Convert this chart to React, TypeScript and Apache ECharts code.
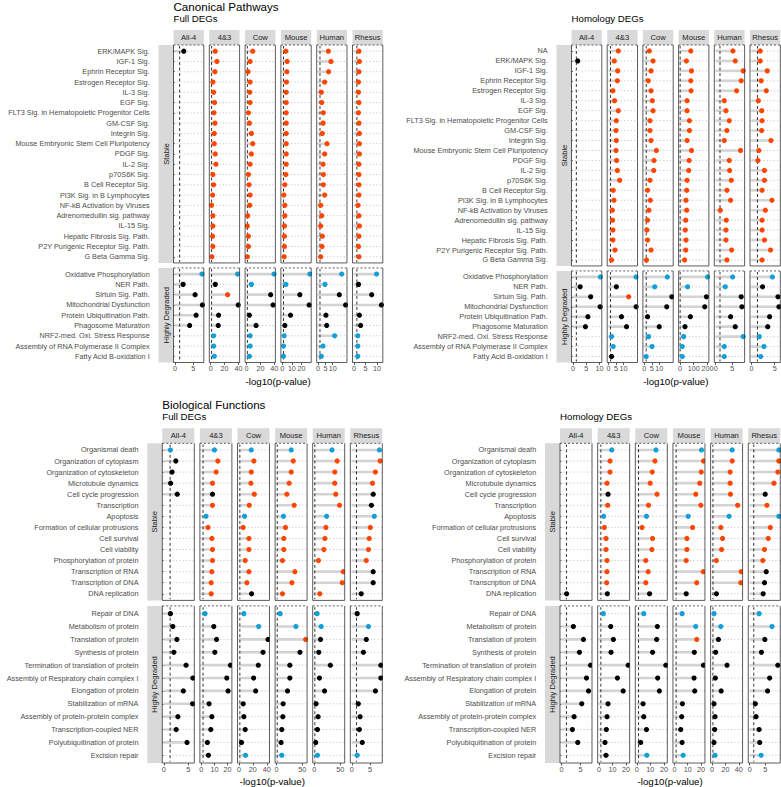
import React, { useEffect, useRef } from "react";
import * as echarts from "echarts";

const FONT = "'Liberation Sans', Arial, Helvetica, sans-serif";
const COLUMNS = ["All-4", "4&3", "Cow", "Mouse", "Human", "Rhesus"];
const ROW_LABELS = ["Stable", "Highly Degraded"];
const THRESHOLD = 1.3;
const PALETTE: Record<string, string> = { o: "#FF4500", b: "#119FD7", k: "#000000" };
const COLOR_KEYS = ["o", "b", "k"];
const N = null;

type V = (number | null)[];

// ---------- categories ----------
const cpStableFull = [
  "ERK/MAPK Sig.", "IGF-1 Sig.", "Ephrin Receptor Sig.", "Estrogen Receptor Sig.", "IL-3 Sig.", "EGF Sig.",
  "FLT3 Sig. in Hematopoietic Progenitor Cells", "GM-CSF Sig.", "Integrin Sig.", "Mouse Embryonic Stem Cell Pluripotency",
  "PDGF Sig.", "IL-2 Sig.", "p70S6K Sig.", "B Cell Receptor Sig.", "PI3K Sig. in B Lymphocytes", "NF-kB Activation by Viruses",
  "Adrenomedullin sig. pathway", "IL-15 Sig.", "Hepatic Fibrosis Sig. Path.", "P2Y Purigenic Receptor Sig. Path.", "G Beta Gamma Sig.",
];
const cpStableHom = ["NA", ...cpStableFull];
const cpDegraded = [
  "Oxidative Phosphorylation", "NER Path.", "Sirtuin Sig. Path.", "Mitochondrial Dysfunction", "Protein Ubiquitination Path.",
  "Phagosome Maturation", "NRF2-med. Oxi. Stress Response", "Assembly of RNA Polymerase II Complex", "Fatty Acid B-oxidation I",
];
const bfStable = [
  "Organismal death", "Organization of cytoplasm", "Organization of cytoskeleton", "Microtubule dynamics", "Cell cycle progression",
  "Transcription", "Apoptosis", "Formation of cellular protrusions", "Cell survival", "Cell viability", "Phosphorylation of protein",
  "Transcription of RNA", "Transcription of DNA", "DNA replication",
];
const bfDegraded = [
  "Repair of DNA", "Metabolism of protein", "Translation of protein", "Synthesis of protein", "Termination of translation of protein",
  "Assembly of Respiratory chain complex I", "Elongation of protein", "Stabilization of mRNA", "Assembly of protein-protein complex",
  "Transcription-coupled NER", "Polyubiquitination of protein", "Excision repair",
];

// ---------- Canonical pathways, Full DEGs ----------
const cpFullStableVals: V[] = [
  [2.42],
  [6.6, 9.0, 6.1, 3.2, 4.2, 5.6, 4.7, 6.1, 5.2, 5.2, 6.6, 7.6, 3.2, 4.2, 2.8, 1.3, 3.2, 3.2, 2.8, 3.2, 1.8],
  [9.0, 5.2, 2.3, 5.2, 4.7, 5.2, 2.8, 4.2, 7.1, 9.0, 7.1, 5.2, 2.8, 3.7, 5.2, 4.7, 1.8, 1.3, 2.8, 2.8, 1.3],
  [3.7, 5.1, 4.8, 4.4, 4.1, 4.1, 4.1, 4.1, 4.1, 4.1, 4.1, 4.1, 3.7, 2.7, 1.7, 2.7, 2.7, 2.3, 2.3, 2.3, 2.0],
  [7.0, 8.8, 7.2, 4.5, 2.2, 2.5, 3.6, 3.4, 2.9, 6.1, 4.5, 3.4, 3.6, 3.6, 4.5, 1.8, 2.5, 1.8, 2.9, 2.7, 1.8],
  [2.2, 2.4, 2.2, 2.0, 2.0, 2.2, 2.0, 2.2, 2.4, 2.4, 2.4, 2.2, 2.2, 2.2, 2.2, 1.8, 2.2, 2.4, 2.2, 2.0, 2.2],
];
const cpFullStableClr = ["k", "o".repeat(21), "o".repeat(21), "o".repeat(21), "o".repeat(21), "o".repeat(21)];
const cpFullDegVals: V[] = [
  [7.38, 2.24, 5.51, 7.5, 5.79, 4.01],
  [38.7, 6.6, 24.3, 39.6, 11.4, 10.9, 4.2, 4.2, 5.2],
  [39.6, 7.1, 34.8, 38.2, 4.2, 13.8, 5.2, 5.2, 4.2],
  [28.7, 3.7, 18.3, 28.0, 8.6, 2.7, 2.0, 1.3, 1.3],
  [16.1, 4.7, 14.5, 18.8, 5.4, 5.9, 11.3, 3.4, 2.2],
  [9.8, 2.0, 7.7, 11.9, 2.4, 2.9, 1.7, 1.7, 1.7],
];
const cpFullDegClr = ["bkkkkk", "bkokkkbbb", "bbkkkkbbb", "bbkkkkbbb", "bbkkkkbbb", "bkkkkkbbb"];
const cpFullTicks = [[0, 5], [0, 20, 40], [0, 20, 40], [0, 10, 20], [0, 5, 10, 15], [0, 5, 10]];

// ---------- Canonical pathways, Homology DEGs ----------
const cpHomStableVals: V[] = [
  [N, 1.82],
  [6.5, 3.8, 6.1, 5.9, 2.9, 4.0, 6.5, 5.2, 5.0, 5.2, 5.0, 5.4, 5.9, 7.4, 3.1, 3.6, 2.5, 2.7, 2.9, 2.9, 4.3, 2.0],
  [3.4, 5.9, 4.5, 2.7, 4.5, 5.4, 5.9, 3.8, 3.8, 4.5, 8.1, 6.5, 6.3, 3.8, 2.2, 4.0, 3.1, 2.2, 1.8, 2.2, 4.5, 1.5],
  [79, 47, 84, 79, 81, 52, 52, 69, 69, 52, 84, 67, 64, 52, 49, 44, 49, 42, 39, 44, 42, 34],
  [5.2, 5.9, 8.3, 7.7, 6.3, 2.6, 3.1, 4.1, 3.4, 2.6, 7.5, 4.1, 4.2, 4.7, 3.4, 4.5, 1.4, 3.2, 3.1, 3.1, 4.8, 3.4],
  [1.9, 1.9, 3.4, 2.1, 3.2, 1.5, 2.2, 2.3, 2.2, 4.2, 1.6, 1.4, 2.8, 2.8, 2.3, 4.4, 3.0, 2.3, 2.3, 2.8, 4.1, 2.3],
];
const cpHomStableClr = ["-k", "o".repeat(22), "o".repeat(22), "o".repeat(22), "o".repeat(22), "o".repeat(22)];
const cpHomDegVals: V[] = [
  [10.3, 2.73, 6.66, 10.2, 5.61, 4.7],
  [18.4, 5.2, 13.4, 18.4, 8.6, 12.0, 2.0, 3.1, 2.0],
  [15.4, 7.0, 18.4, 15.0, 2.2, 10.0, 2.9, 5.2, 1.3],
  [201, 56, 193, 181, 76, 37, 27, 17, 17],
  [5.1, 2.9, 7.7, 7.9, 4.5, 5.9, 8.3, 2.6, 2.6],
  [4.5, 2.4, 5.7, 5.9, 3.9, 3.5, 1.7, 2.7, 2.0],
];
const cpHomDegClr = ["bkkkkk", "bkokkkbbk", "bbkkkkbbb", "bbkkkkbbb", "bbkkkkbbb", "bkkkkkbbb"];
const cpHomTicks = [[0, 5, 10], [0, 5, 10, 15], [0, 5, 10, 15], [0, 100, 200], [0, 5], [0, 5]];

// ---------- Biological functions, Full DEGs ----------
const bfFullStableVals: V[] = [
  [1.36, 2.47, 1.71, 1.4, 2.75],
  [10.0, 12.6, 11.3, 8.5, 8.5, 8.5, 3.6, 5.1, 8.0, 8.5, 8.5, 8.0, 7.5, 7.5],
  [17.7, 21.5, 17.7, 17.2, 22.0, 14.8, 8.0, 6.1, 14.3, 14.3, 9.0, 14.3, 11.4, 18.2],
  [28.5, 32.4, 28.5, 24.5, 20.0, 34.3, 13.5, 17.4, 14.1, 14.1, 11.5, 35.6, 29.8, 11.5],
  [34.2, 44.0, 39.4, 39.4, 41.4, 48.5, 23.8, 22.5, 20.6, 18.6, 8.2, 55.6, 53.7, 10.8],
  [7.6, 7.8, 6.5, 5.7, 5.9, 5.4, 6.2, 5.1, 4.8, 4.6, 4.0, 5.9, 5.9, 2.6],
];
const bfFullStableClr = ["bkkkk", "boookobooooooo", "booooobooooook", "booooobooooooo", "booooobooooooo", "boookkbooookkk"];
const bfFullDegVals: V[] = [
  [1.36, 1.85, 2.68, 2.06, 4.56, 5.94, 4.0, 5.88, 2.89, 2.54, 4.76],
  [2.8, 9.5, 11.6, 10.3, 22.2, 19.4, 20.4, 5.9, 8.0, 7.2, 4.6, 5.4],
  [7.05, 28.3, 41.8, 34.6, 27.8, 21.1, 24.0, 6.1, 7.05, 9.0, 3.7, 9.5],
  [7.0, 37.6, 56.5, 45.4, 25.8, 25.8, 21.3, 12.8, 12.2, 10.2, 8.9, 10.2],
  [5.6, 13.4, 12.1, 8.9, 31.0, 10.2, 19.9, 3.7, 7.6, 6.3, 3.1, 6.3],
  [1.5, 4.6, 4.0, 3.2, 8.0, 8.0, 6.5, 1.8, 2.3, 2.1, 2.9, 1.5],
];
const bfFullDegClr = ["kkkkkkkkkkk", "bkkkkkkkkkkk", "bbkkkkkkkkkb", "bbokkkkkkkkb", "bbkkkkkkkkkb", "kbkkkkkkkkkb"];
const bfFullTicks = [[0, 5], [0, 10, 20], [0, 20, 40], [0, 50], [0, 50], [0, 5]];

// ---------- Biological functions, Homology DEGs ----------
const bfHomStableVals: V[] = [
  [N, N, N, N, N, N, N, N, N, N, N, N, N, 1.35],
  [9.4, 8.15, 8.15, 5.9, 6.65, 6.4, 3.4, 3.9, 5.15, 5.15, 5.9, 5.9, 5.65, 6.15],
  [14.15, 13.4, 11.4, 9.9, 14.9, 8.65, 7.15, 3.9, 11.65, 11.15, 6.65, 8.4, 6.65, 9.4],
  [20.4, 21.9, 20.2, 19.1, 16.1, 19.9, 10.4, 13.7, 9.4, 9.4, 8.9, 21.7, 16.8, 8.9],
  [30.05, 30.05, 27.0, 27.0, 27.5, 38.3, 25.4, 13.1, 15.7, 14.2, 6.5, 43.4, 42.9, 6.5],
  [9.3, 9.3, 8.98, 7.78, 4.96, 5.5, 9.3, 6.59, 5.93, 4.74, 4.2, 5.28, 4.74, 4.3],
];
const bfHomStableClr = ["-------------k", "boookobooooook", "booooobooooook", "booooobooooook", "booooobooooook", "boookobooookkk"];
const bfHomDegVals: V[] = [
  [N, 3.12, 5.75, 4.7, 7.6, 6.54, 7.07, 5.3, 3.3, 2.86, 4.26],
  [3.15, 8.65, 10.65, 8.9, 21.65, 13.65, 17.9, 6.65, 5.9, 5.4, 4.4, 5.15],
  [5.15, 15.15, 14.65, 11.65, 21.4, 15.4, 16.65, 4.65, 5.15, 7.15, 2.9, 7.4],
  [5.8, 16.05, 16.8, 15.0, 21.9, 14.8, 15.3, 6.05, 5.5, 4.75, 5.8, 6.6],
  [2.9, 13.1, 9.5, 5.4, 22.4, 4.9, 13.6, 2.9, 4.4, 3.9, 2.9, 4.4],
  [3.0, 7.13, 4.85, 3.76, 8.98, 6.37, 5.72, 1.8, 2.02, 3.0, 3.2, 3.65],
];
const bfHomDegClr = ["-kkkkkkkkkk", "bkkkkkkkkkkk", "bkkkkkkkkkkb", "bbokkkkkkkkb", "bbkkkkkkkkkb", "bbkkkkkkkkkb"];
const bfHomTicks = [[0, 5], [0, 10, 20], [0, 10, 20], [0, 10, 20], [0, 20, 40], [0, 5]];

// ---------- layout ----------
interface PanelDef {
  title: string; sub: string; titleY: number; subY: number;
  left0: number; pitch: number; w: number;
  headerTop: number; top: number; bottom: number; gap: number; free: boolean; axisTitleY: number;
  stableCats: string[]; degCats: string[];
  sv: V[]; sc: string[]; dv: V[]; dc: string[]; ticks: number[][];
}

const PANELS: PanelDef[] = [
  { title: "Canonical Pathways", sub: "Full DEGs", titleY: 6.5, subY: 18.5, left0: 173.5, pitch: 35.8, w: 30.3,
    headerTop: 30, top: 45, bottom: 362.5, gap: 5, free: true, axisTitleY: 381,
    stableCats: cpStableFull, degCats: cpDegraded, sv: cpFullStableVals, sc: cpFullStableClr, dv: cpFullDegVals, dc: cpFullDegClr, ticks: cpFullTicks },
  { title: "", sub: "Homology DEGs", titleY: 6.5, subY: 18.5, left0: 571.5, pitch: 35.7, w: 30.3,
    headerTop: 30, top: 45, bottom: 362.5, gap: 5, free: true, axisTitleY: 381,
    stableCats: cpStableHom, degCats: cpDegraded, sv: cpHomStableVals, sc: cpHomStableClr, dv: cpHomDegVals, dc: cpHomDegClr, ticks: cpHomTicks },
  { title: "Biological Functions", sub: "Full DEGs", titleY: 404.5, subY: 416.7, left0: 162.3, pitch: 37.6, w: 32,
    headerTop: 428.3, top: 443.3, bottom: 763, gap: 5.5, free: false, axisTitleY: 781,
    stableCats: bfStable, degCats: bfDegraded, sv: bfFullStableVals, sc: bfFullStableClr, dv: bfFullDegVals, dc: bfFullDegClr, ticks: bfFullTicks },
  { title: "", sub: "Homology DEGs", titleY: 404.5, subY: 416.7, left0: 560, pitch: 37.65, w: 32,
    headerTop: 428.3, top: 443.3, bottom: 763, gap: 5.5, free: false, axisTitleY: 781,
    stableCats: bfStable, degCats: bfDegraded, sv: bfHomStableVals, sc: bfHomStableClr, dv: bfHomDegVals, dc: bfHomDegClr, ticks: bfHomTicks },
];

function renderItem(params: any, api: any) {
  const cs = params.coordSys;
  const idx = api.value(1);
  const v = api.value(0);
  const has = api.value(3) === 1;
  const ci = api.value(2);
  const p0 = api.coord([0, idx]);
  const y = p0[1];
  const children: any[] = [
    { type: "line", z2: 1, shape: { x1: cs.x, y1: y, x2: cs.x + cs.width, y2: y },
      style: { stroke: "#A8A8A8", lineWidth: 0.7, lineDash: [1, 2.4] } },
  ];
  if (params.dataIndex === 0) {
    const tx = api.coord([THRESHOLD, idx])[0];
    children.push({ type: "line", z2: 3, shape: { x1: tx, y1: cs.y - 6, x2: tx, y2: cs.y + cs.height + 6 },
      style: { stroke: "#000000", lineWidth: 0.8, lineDash: [3, 2.5] } });
  }
  if (has) {
    const p = api.coord([v, idx]);
    children.push({ type: "line", z2: 2, shape: { x1: p0[0], y1: y, x2: p[0], y2: y },
      style: { stroke: "#D3D3D3", lineWidth: 2.6 } });
    children.push({ type: "circle", z2: 4, shape: { cx: p[0], cy: y, r: 2.6 },
      style: { fill: PALETTE[COLOR_KEYS[ci]] } });
  }
  return { type: "group", children };
}

function txt(text: string, x: number, y: number, size: number, color: string, align = "left", rotation = 0) {
  return {
    type: "text", x, y, rotation, silent: true, z: 20,
    style: { text, fill: color, fontSize: size, fontFamily: FONT, textAlign: align, textVerticalAlign: "middle" },
  };
}
function seg(x1: number, y1: number, x2: number, y2: number, dash?: number[]) {
  return {
    type: "line", silent: true, z: 15,
    shape: { x1, y1, x2, y2 },
    style: { stroke: "#333333", lineWidth: 0.8, lineDash: dash },
  };
}

function buildOption() {
  const grids: any[] = [], xAxes: any[] = [], yAxes: any[] = [], series: any[] = [], graphics: any[] = [];
  PANELS.forEach((p) => {
    const ns = p.stableCats.length, nd = p.degCats.length;
    const avail = p.bottom - p.top - p.gap;
    const hs = p.free ? (avail * (ns + 0.2)) / (ns + nd + 0.4) : avail / 2;
    const hd = avail - hs;
    const rows = [
      { cats: p.stableCats, vals: p.sv, clr: p.sc, top: p.top, h: hs },
      { cats: p.degCats, vals: p.dv, clr: p.dc, top: p.top + hs + p.gap, h: hd },
    ];
    const rightEnd = p.left0 + 5 * p.pitch + p.w;
    if (p.title) graphics.push(txt(p.title, p.left0, p.titleY, 11.6, "#000000"));
    graphics.push(txt(p.sub, p.left0, p.subY, 9.7, "#000000"));
    graphics.push(txt("-log10(p-value)", (p.left0 + rightEnd) / 2, p.axisTitleY, 9.7, "#000000", "center"));
    COLUMNS.forEach((c, ci) => {
      const x = p.left0 + ci * p.pitch;
      graphics.push({ type: "rect", silent: true, z: 5, shape: { x, y: p.headerTop, width: p.w, height: p.top - p.headerTop },
        style: { fill: "#D9D9D9" } });
      graphics.push(txt(c, x + p.w / 2, (p.headerTop + p.top) / 2, 7.6, "#1A1A1A", "center"));
    });
    rows.forEach((r, ri) => {
      const sx = p.left0 - 15;
      graphics.push({ type: "rect", silent: true, z: 5, shape: { x: sx, y: r.top, width: 15, height: r.h }, style: { fill: "#D9D9D9" } });
      graphics.push(txt(ROW_LABELS[ri], sx + 7.5, r.top + r.h / 2, 7.6, "#1A1A1A", "center", Math.PI / 2));
      const n = r.cats.length;
      const inset = (0.1 * r.h) / (n + 0.2);
      COLUMNS.forEach((_, ci) => {
        const x = p.left0 + ci * p.pitch;
        const all = [...p.sv[ci], ...p.dv[ci]].filter((v) => v != null) as number[];
        const M = Math.max(...all);
        const gi = grids.length;
        const isBottom = ri === 1;
        grids.push({ left: x, top: r.top + inset, width: p.w, height: r.h - 2 * inset });
        xAxes.push({
          gridIndex: gi, type: "value", min: -0.05 * M, max: 1.05 * M, offset: inset,
          axisLine: { show: false }, splitLine: { show: false },
          axisTick: { show: isBottom, length: 2.5, customValues: p.ticks[ci], lineStyle: { color: "#333333", width: 0.8 } },
          axisLabel: { show: isBottom, customValues: p.ticks[ci], fontSize: 7.2, color: "#4D4D4D", margin: 2.5, fontFamily: FONT },
        });
        yAxes.push({
          gridIndex: gi, type: "category", data: r.cats, inverse: true, offset: ci === 0 ? 19 : 0,
          axisLine: { show: false }, splitLine: { show: false },
          axisTick: { show: ci === 0, alignWithLabel: true, interval: 0, length: 3, lineStyle: { color: "#333333", width: 0.8 } },
          axisLabel: { show: ci === 0, interval: 0, fontSize: 7.3, color: "#4D4D4D", margin: 4.8, fontFamily: FONT },
        });
        const vals = r.vals[ci], clr = r.clr[ci];
        series.push({
          type: "custom", xAxisIndex: gi, yAxisIndex: gi, clip: true, silent: true,
          renderItem, encode: { x: 0, y: 1 },
          data: r.cats.map((_, i) => {
            const v = vals[i];
            const has = v != null && clr[i] && clr[i] !== "-";
            return [has ? v : 0, i, has ? COLOR_KEYS.indexOf(clr[i]) : 2, has ? 1 : 0];
          }),
        });
        const y0 = r.top, y1 = r.top + r.h, x1 = x + p.w;
        graphics.push(seg(x, y0, x, y1));
        graphics.push(seg(x1, y0, x1, y1));
        graphics.push(seg(x, y1, x1, y1));
        graphics.push(seg(x, y0, x1, y0, [2, 2]));
      });
    });
  });
  return {
    animation: false,
    backgroundColor: "#FFFFFF",
    textStyle: { fontFamily: FONT },
    grid: grids, xAxis: xAxes, yAxis: yAxes, series,
    graphic: { elements: graphics },
  };
}

export default function App() {
  const ref = useRef<HTMLDivElement>(null);
  useEffect(() => {
    if (!ref.current) return;
    const chart = echarts.init(ref.current, undefined, { renderer: "svg" });
    chart.setOption(buildOption() as any);
    return () => chart.dispose();
  }, []);
  return <div ref={ref} style={{ width: 781, height: 787, position: "absolute", left: 0, top: 0 }} />;
}
